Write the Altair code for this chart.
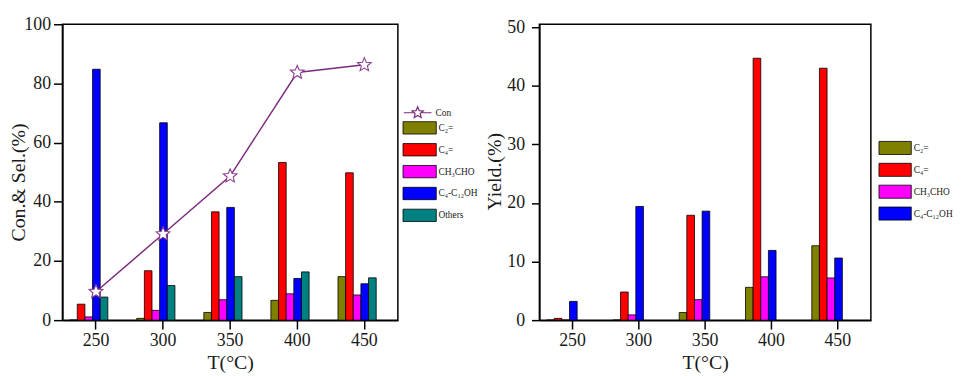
import altair as alt
import pandas as pd

# ---- data ----
temps = [250, 300, 350, 400, 450]

sel_series = ["C₂=", "C₄=", "CH₃CHO", "C₄-C₁₂OH", "Others"]
sel_c2 = [0.0, 0.6, 2.6, 6.7, 14.7]
sel_c4 = [5.4, 16.7, 36.6, 53.3, 49.8]
sel_ch3cho = [1.1, 3.3, 6.9, 8.9, 8.5]
sel_c4c12oh = [84.8, 66.7, 38.1, 14.1, 12.3]
sel_others = [7.8, 11.7, 14.7, 16.3, 14.3]
conversion = [9.6, 29.1, 48.7, 83.7, 86.3]

yld_series = ["C₂=", "C₄=", "CH₃CHO", "C₄-C₁₂OH"]
yld_c2 = [0.0, 0.0, 1.3, 5.6, 12.7]
yld_c4 = [0.3, 4.8, 17.9, 44.7, 43.0]
yld_ch3cho = [0.0, 0.9, 3.5, 7.4, 7.2]
yld_c4c12oh = [3.2, 19.4, 18.6, 11.9, 10.6]

colors5 = ["#808000", "#ff0000", "#ff00ff", "#0000ff", "#008080"]
colors4 = colors5[:4]
purple = "#7d2a7d"
gap_slots = ["_gap1", "_gap2"]

def long(series, arrays):
    rows = []
    for s, arr in zip(series, arrays):
        for t, v in zip(temps, arr):
            rows.append({"T": t, "series": s, "value": v})
    return pd.DataFrame(rows)

df_sel = long(sel_series, [sel_c2, sel_c4, sel_ch3cho, sel_c4c12oh, sel_others])
df_yld = long(yld_series, [yld_c2, yld_c4, yld_ch3cho, yld_c4c12oh])
df_con = pd.DataFrame({"T": temps, "con": conversion, "series": ["Con"] * 5})

FONT = "Liberation Serif, Times New Roman, DejaVu Serif, serif"
star = ("M0,-1L0.2645,-0.364L0.951,-0.309L0.428,0.139L0.588,0.809L0,0.45"
        "L-0.588,0.809L-0.428,0.139L-0.951,-0.309L-0.2645,-0.364Z")
con_sym = "M-2.33,0H-0.59M0.59,0H2.33" + star
rect_l = "M-2.8,-1.04H2.8V1.04H-2.8Z"
rect_r = "M-2.72,-1.1H2.72V1.1H-2.72Z"

def x_axis():
    return alt.Axis(title="T(°C)", labelAngle=0, tickSize=9, labelPadding=3,
                    labelFontSize=18, titleFontSize=20, titleY=33,
                    titleBaseline="top")

# ---- left panel ----
L_W, L_H = 339, 299
xl = alt.X("T:O", scale=alt.Scale(paddingInner=0, paddingOuter=0), axis=x_axis())

bars_l = alt.Chart(df_sel).mark_bar(stroke="black", strokeWidth=0.8).encode(
    x=xl,
    xOffset=alt.XOffset("series:N", scale=alt.Scale(domain=sel_series + gap_slots,
                                                    paddingInner=0, paddingOuter=0.89,
                                                    align=0.53)),
    y=alt.Y("value:Q", scale=alt.Scale(domain=[0, 100], nice=False),
            axis=alt.Axis(title="Con.& Sel.(%)", values=[0, 20, 40, 60, 80, 100],
                          tickSize=9, labelPadding=3, titleX=-34, titleY=159.4)),
    fill=alt.Fill("series:N", scale=alt.Scale(domain=sel_series, range=colors5),
                  legend=alt.Legend(orient="none", legendX=354.5, legendY=98.2, title=None,
                                    symbolType=rect_l, symbolSize=144,
                                    symbolStrokeColor="black", symbolStrokeWidth=0.8,
                                    labelFontSize=9.5, labelOffset=12.5, rowPadding=5.1,
                                    padding=0)),
)

line_l = alt.Chart(df_con).mark_line(strokeWidth=1.5).encode(
    x=xl,
    y=alt.Y("con:Q"),
    stroke=alt.Stroke("series:N", scale=alt.Scale(domain=["Con"], range=[purple]),
                      legend=alt.Legend(orient="none", legendX=352, legendY=82.4, title=None,
                                        symbolType=con_sym, symbolSize=144,
                                        symbolStrokeWidth=1.2, symbolFillColor="white",
                                        labelFontSize=9.5, labelOffset=11, padding=0)),
)

stars_l = alt.Chart(df_con).mark_point(shape=star, size=210, filled=True, fill="white",
                                       stroke="#8e3f8e", strokeWidth=1.1, opacity=1).encode(
    x=xl, y=alt.Y("con:Q"))

left = alt.layer(bars_l, line_l, stars_l).properties(width=L_W, height=L_H)

# ---- right panel ----
R_W, R_H = 335, 299
xr = alt.X("T:O", scale=alt.Scale(paddingInner=0, paddingOuter=0), axis=x_axis())

right = alt.Chart(df_yld).mark_bar(stroke="black", strokeWidth=0.8).encode(
    x=xr,
    xOffset=alt.XOffset("series:N", scale=alt.Scale(domain=yld_series + gap_slots,
                                                    paddingInner=0, paddingOuter=0.765,
                                                    align=0.48)),
    y=alt.Y("value:Q", scale=alt.Scale(domain=[0, 50.5], nice=False),
            axis=alt.Axis(title="Yield.(%)", values=[0, 10, 20, 30, 40, 50],
                          tickSize=8, labelPadding=7, titleX=-35.3, titleY=148.5)),
    fill=alt.Fill("series:N", scale=alt.Scale(domain=yld_series, range=colors4),
                  legend=alt.Legend(orient="none", legendX=353, legendY=118.5, title=None,
                                    symbolType=rect_r, symbolSize=144,
                                    symbolStrokeColor="black", symbolStrokeWidth=0.8,
                                    labelFontSize=9.5, labelOffset=12.2, rowPadding=5.1,
                                    padding=0)),
).properties(width=R_W, height=R_H)

chart = alt.hconcat(left, right, spacing=143, bounds="flush").resolve_scale(
    fill="independent"
).resolve_legend(fill="independent").properties(
    padding={"left": 0, "top": 4.5, "right": 0, "bottom": 0}
).configure_view(
    stroke="black", strokeWidth=1.5
).configure_axis(
    grid=False, domainColor="black", domainWidth=1.5, tickColor="black", tickWidth=1.5,
    labelFont=FONT, titleFont=FONT, labelFontSize=18, titleFontSize=20,
    titleFontWeight="normal", labelColor="#1a1a1a", titleColor="#1a1a1a",
).configure_legend(
    labelFont=FONT, labelColor="#1a1a1a", labelLimit=0
)

chart.save("out.html", embed_options={"renderer": "svg", "actions": False})
